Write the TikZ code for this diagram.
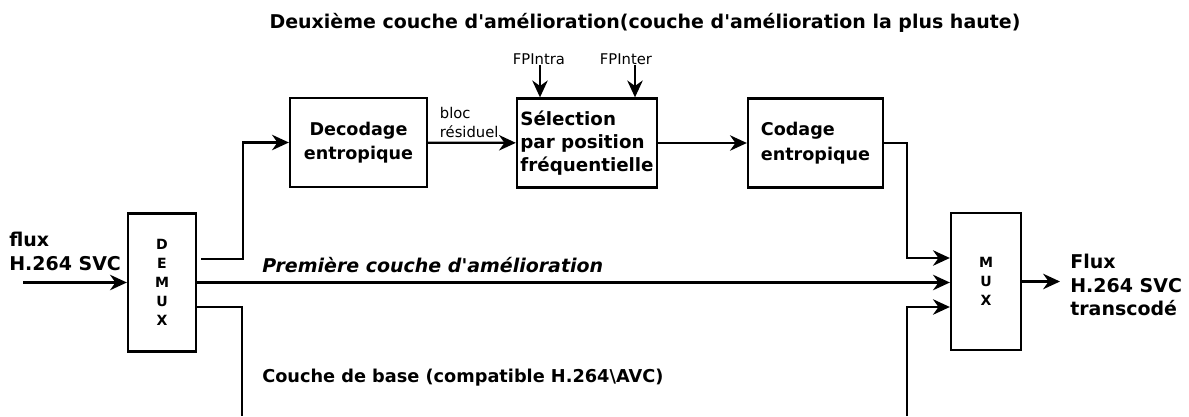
\documentclass[tikz,border=0pt]{standalone}
\usepackage{fontspec}
\setmainfont{DejaVu Sans}
\usepackage{tikz}
\usetikzlibrary{
    arrows.meta,
    positioning,
    calc
}
\tikzstyle{block} = [
    rectangle,
    draw=black,
    line width=1.6pt,
    minimum height=2.225cm,
    inner sep=2pt,
    font=\fontsize{12.5}{17.5}\selectfont\bfseries
]
\tikzstyle{mx} = [
    rectangle,
    draw=black,
    line width=1.6pt,
    minimum width=1.7cm,
    minimum height=3.45cm,
    align=center,
    font=\fontsize{10}{13.5}\selectfont\bfseries
]
\tikzstyle{lbl} = [
    font=\fontsize{13.5}{17}\selectfont\bfseries,
    align=left,
    inner sep=0pt
]
\tikzstyle{small} = [
    font=\fontsize{10.5}{13}\selectfont,
    align=left,
    inner sep=0pt
]
\tikzstyle{arrow} = [
    -{Stealth[length=12pt,width=11pt]},
    line width=1.6pt
]
\tikzstyle{line} = [
    line width=1.6pt
]

\begin{document}
\begin{tikzpicture}[x=0.025cm, y=0.025cm]
        \useasboundingbox (0,0) rectangle (1189,416);

        % Title
        \node[lbl, font=\fontsize{13.5}{16}\selectfont\bfseries] (title) at (645,393) {Deuxième couche d\textquotesingle amélioration(couche d\textquotesingle amélioration la plus haute)};

        % Demultiplexer / multiplexer
        \node[mx] (demux) at (162,133.5) {D\\E\\M\\U\\X};
        \node[mx, minimum width=1.75cm, minimum height=3.425cm] (mux) at (986,134.5) {M\\U\\X};

        % Second enhancement layer chain
        \node[block, minimum width=3.425cm, align=center] (dec) at (358.5,273.5) {Decodage\\entropique};
        \node[block, minimum width=3.5cm, align=left, inner sep=1pt, font=\fontsize{13}{16.3}\selectfont\bfseries] (sel) at (587,273) {Sélection\\par position\\fréquentielle};
        \node[block, minimum width=3.375cm, align=left] (cod) at (815.5,273) {Codage\\entropique};

        % Parameters
        \node[small] (fpintra) at (539,357) {FPIntra};
        \node[small] (fpinter) at (626,357) {FPInter};

        % Stream labels
        \node[lbl, anchor=west] (fin) at (9,165) {flux\\H.264 SVC};
        \node[lbl, anchor=west] (fout) at (1070,131) {Flux\\H.264 SVC\\transcodé};
        \node[lbl, anchor=west, font=\fontsize{13.5}{16}\selectfont\bfseries\itshape] (l1) at (262,151) {Première couche d\textquotesingle amélioration};
        \node[lbl, anchor=west, font=\fontsize{12.6}{16}\selectfont\bfseries] (l0) at (262,38) {Couche de base (compatible H.264\textbackslash AVC)};

        % Free ends
        \coordinate (in) at (23,133.5);
        \coordinate (out) at (1060,134.5);
        \coordinate (bl) at (242,0);
        \coordinate (br) at (907,0);

        % Arrows
        \draw[arrow] (in) -- (demux.west);
        \draw[arrow] ($(demux.east)+(4,23.5)$) -- ++(42,0) |- (dec.west);
        \draw[arrow] (dec) -- node[small, above=3pt, xshift=-2pt] {bloc\\résiduel} (sel);
        \draw[arrow] (sel) -- (cod);
        \draw[arrow] (fpintra.south -| 540,0) -- (sel.north -| 540,0);
        \draw[arrow] (fpinter.south -| 635,0) -- (sel.north -| 635,0);
        \draw[arrow] (cod.east) -- ++(23,0) |- ($(mux.west)+(0,23.5)$);
        \draw[arrow] (demux.east) -- (demux.east -| mux.west);
        \draw[line] ($(demux.east)+(0,-24.5)$) -| (bl);
        \draw[arrow] (br) |- ($(mux.west)+(0,-25.5)$);
        \draw[arrow] (mux.east) -- (out);
    \end{tikzpicture}
\end{document}
